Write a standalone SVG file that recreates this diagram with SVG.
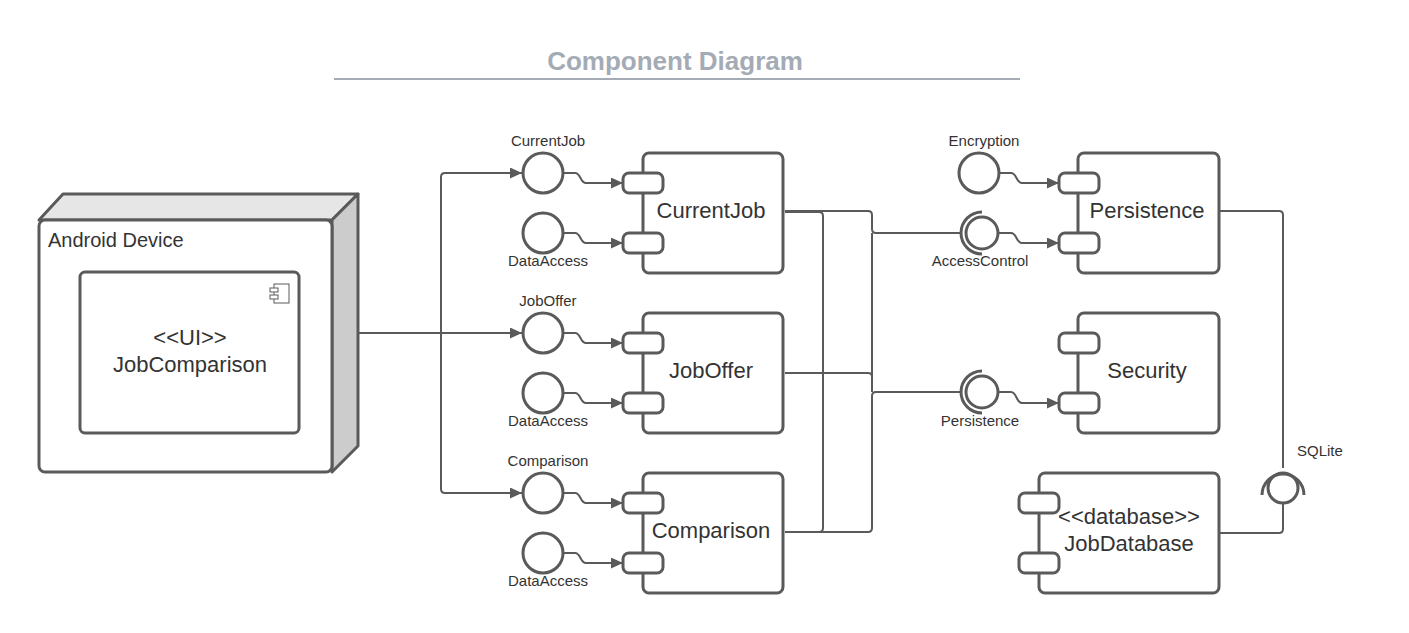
<svg xmlns="http://www.w3.org/2000/svg" width="1409" height="633" viewBox="0 0 1409 633">
<style>
text{font-family:"Liberation Sans",Arial,sans-serif;fill:#333333}
.box{fill:#ffffff;stroke:#5a5a5a;stroke-width:3}
.port{fill:#ffffff;stroke:#5a5a5a;stroke-width:3}
.if{fill:#ffffff;stroke:#5a5a5a;stroke-width:3}
.sock{fill:none;stroke:#5a5a5a;stroke-width:3}
.c{fill:none;stroke:#5a5a5a;stroke-width:2}
.ca{fill:none;stroke:#5a5a5a;stroke-width:2;marker-end:url(#arr)}
.big{font-size:22px;text-anchor:middle}
.sm{font-size:15px;text-anchor:middle}
</style>
<defs>
<marker id="arr" markerUnits="userSpaceOnUse" markerWidth="13" markerHeight="11" refX="12" refY="5.5" orient="auto">
<path d="M0,0 L12,5.5 L0,11 z" fill="#5a5a5a"/>
</marker>
</defs>
<rect width="1409" height="633" fill="#ffffff"/>
<g id="title">
<text x="675" y="70" style="font-size:26px;font-weight:bold;fill:#a5abb5;text-anchor:middle">Component Diagram</text>
<line x1="334" y1="79" x2="1020" y2="79" stroke="#a5abb5" stroke-width="2"/>
</g>
<g id="android-device">
<path d="M39,220 L63,194 H358 L332,220 Z" fill="#e6e6e6" stroke="#5a5a5a" stroke-width="3" stroke-linejoin="round"/>
<path d="M332,220 L358,194 V446 L332,472 Z" fill="#cccccc" stroke="#5a5a5a" stroke-width="3" stroke-linejoin="round"/>
<rect x="39" y="220" width="293" height="252" rx="6" fill="#ffffff" stroke="#5a5a5a" stroke-width="3"/>
<text x="48" y="247" style="font-size:20px">Android Device</text>
</g>
<g id="ui-jobcomparison">
<rect x="80" y="272" width="219" height="161" rx="5" class="box"/>
<rect x="274" y="284" width="15" height="19" fill="#ffffff" stroke="#5a5a5a" stroke-width="1"/>
<rect x="270" y="288" width="8" height="4" fill="#ffffff" stroke="#5a5a5a" stroke-width="1"/>
<rect x="270" y="295" width="8" height="4" fill="#ffffff" stroke="#5a5a5a" stroke-width="1"/>
<text x="190" y="345" class="big">&lt;&lt;UI&gt;&gt;</text>
<text x="190" y="372" class="big">JobComparison</text>
</g>
<g id="connectors">
<path class="c" d="M358,333 H441"/>
<path class="ca" d="M441,333 V177 Q441,173 445,173 H522"/>
<path class="ca" d="M441,333 H522"/>
<path class="ca" d="M441,333 V489 Q441,493 445,493 H522"/>
<path class="ca" d="M563,173 H575 C581,173 580,183 586,183 H623"/>
<path class="ca" d="M563,233 H575 C581,233 580,243 586,243 H623"/>
<path class="ca" d="M563,333 H575 C581,333 580,343 586,343 H623"/>
<path class="ca" d="M563,393 H575 C581,393 580,403 586,403 H623"/>
<path class="ca" d="M563,493 H575 C581,493 580,503 586,503 H623"/>
<path class="ca" d="M563,553 H575 C581,553 580,563 586,563 H623"/>
<path class="c" d="M785,211 H868 Q872,211 872,215 V229 Q872,233 876,233 H962"/>
<path class="c" d="M785,212 H819 Q823,212 823,216 V528 Q823,532 819,532 H785"/>
<path class="c" d="M785,532 H868 Q872,532 872,528 V396 Q872,392 876,392 H962"/>
<path class="c" d="M785,373 H868 Q872,373 872,377 V392"/>
<path class="c" d="M872,233 V392"/>
<path class="ca" d="M999,173 H1011 C1017,173 1016,183 1022,183 H1059"/>
<path class="ca" d="M998,233 H1011 C1017,233 1016,243 1022,243 H1059"/>
<path class="ca" d="M998,392 H1011 C1017,392 1016,403 1022,403 H1059"/>
<path class="c" d="M1219,211 H1279 Q1283,211 1283,215 V468"/>
<path class="c" d="M1219,533 H1279 Q1283,533 1283,529 V503"/>
</g>
<g id="if-currentjob">
<circle cx="543" cy="173" r="20" class="if"/>
<text x="548" y="146" class="sm">CurrentJob</text>
</g>
<g id="if-dataaccess-1">
<circle cx="543" cy="233" r="20" class="if"/>
<text x="548" y="266" class="sm">DataAccess</text>
</g>
<g id="if-joboffer">
<circle cx="543" cy="333" r="20" class="if"/>
<text x="548" y="306" class="sm">JobOffer</text>
</g>
<g id="if-dataaccess-2">
<circle cx="543" cy="393" r="20" class="if"/>
<text x="548" y="426" class="sm">DataAccess</text>
</g>
<g id="if-comparison">
<circle cx="543" cy="493" r="20" class="if"/>
<text x="548" y="466" class="sm">Comparison</text>
</g>
<g id="if-dataaccess-3">
<circle cx="543" cy="553" r="20" class="if"/>
<text x="548" y="586" class="sm">DataAccess</text>
</g>
<g id="currentjob">
<rect x="643" y="153" width="140" height="120" rx="6" class="box"/>
<rect x="623" y="173" width="40" height="20" rx="6" class="port"/>
<rect x="623" y="233" width="40" height="20" rx="6" class="port"/>
<text x="711" y="218" class="big">CurrentJob</text>
</g>
<g id="joboffer">
<rect x="643" y="313" width="140" height="120" rx="6" class="box"/>
<rect x="623" y="333" width="40" height="20" rx="6" class="port"/>
<rect x="623" y="393" width="40" height="20" rx="6" class="port"/>
<text x="711" y="378" class="big">JobOffer</text>
</g>
<g id="comparison">
<rect x="643" y="473" width="140" height="120" rx="6" class="box"/>
<rect x="623" y="493" width="40" height="20" rx="6" class="port"/>
<rect x="623" y="553" width="40" height="20" rx="6" class="port"/>
<text x="711" y="538" class="big">Comparison</text>
</g>
<g id="if-encryption">
<circle cx="979" cy="173" r="20" class="if"/>
<text x="984" y="146" class="sm">Encryption</text>
</g>
<g id="if-accesscontrol">
<circle cx="982" cy="233" r="16" class="if"/>
<path class="sock" d="M982,212 A21,21 0 0 0 982,254"/>
<text x="980" y="266" class="sm">AccessControl</text>
</g>
<g id="if-persistence">
<circle cx="982" cy="392" r="16" class="if"/>
<path class="sock" d="M982,371 A21,21 0 0 0 982,413"/>
<text x="980" y="426" class="sm">Persistence</text>
</g>
<g id="persistence">
<rect x="1078" y="153" width="141" height="120" rx="6" class="box"/>
<rect x="1059" y="173" width="40" height="20" rx="6" class="port"/>
<rect x="1059" y="233" width="40" height="20" rx="6" class="port"/>
<text x="1147" y="218" class="big">Persistence</text>
</g>
<g id="security">
<rect x="1078" y="313" width="141" height="120" rx="6" class="box"/>
<rect x="1059" y="333" width="40" height="20" rx="6" class="port"/>
<rect x="1059" y="393" width="40" height="20" rx="6" class="port"/>
<text x="1147" y="378" class="big">Security</text>
</g>
<g id="jobdatabase">
<rect x="1039" y="473" width="180" height="120" rx="6" class="box"/>
<rect x="1019" y="493" width="40" height="20" rx="6" class="port"/>
<rect x="1019" y="553" width="40" height="20" rx="6" class="port"/>
<text x="1129" y="524" class="big">&lt;&lt;database&gt;&gt;</text>
<text x="1129" y="551" class="big">JobDatabase</text>
</g>
<g id="if-sqlite">
<circle cx="1283" cy="488" r="15" class="if"/>
<path class="sock" d="M1262,495 A21,21 0 0 1 1304,495"/>
<text x="1297" y="456" style="font-size:15px">SQLite</text>
</g>
</svg>
